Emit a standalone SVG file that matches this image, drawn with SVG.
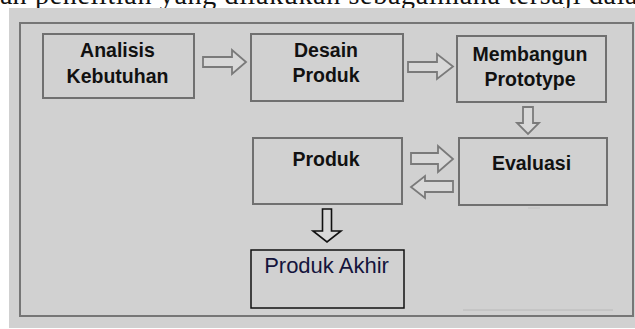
<svg xmlns="http://www.w3.org/2000/svg" width="635" height="329" viewBox="0 0 635 329">
<style>
.node{fill:#d1d1d1;stroke:#707070;stroke-width:2}
.lbl{font-family:"Liberation Sans",Arial,sans-serif;font-weight:bold;font-size:19.5px;fill:#111;text-anchor:middle}
.arr{fill:#d8d8d8;stroke:#7a7a7a;stroke-width:1.8;stroke-linejoin:miter}
.arrb{fill:#d8d8d8;stroke:#111;stroke-width:1.6}
</style>
<rect x="0" y="0" width="635" height="329" fill="#ffffff"/>
<text x="0" y="3.5" font-family="'Liberation Serif','Times New Roman',serif" font-size="28" fill="#111">ah</text>
<text x="35" y="3.5" font-family="'Liberation Serif','Times New Roman',serif" font-size="28" fill="#111" textLength="625" lengthAdjust="spacing">penelitian yang dilakukan sebagaimana tersaji dalam</text>
<rect x="9" y="8" width="626" height="320" fill="#d1d1d1"/>
<rect x="20" y="23" width="613" height="293" fill="none" stroke="#767676" stroke-width="2"/>
<line x1="463" y1="310" x2="613" y2="310" stroke="#b8b8b8" stroke-width="1"/>
<line x1="528" y1="208" x2="540" y2="208" stroke="#c0c0c0" stroke-width="1"/>

<g id="connectors">
<polygon class="arr" points="203,57 232,57 232,50 246,62 232,74 232,67 203,67"/>
<polygon class="arr" points="408,62 437,62 437,54 453,66.5 437,79 437,72 408,72"/>
<polygon class="arr" points="523,107 533,107 533,123 539,123 528,134 517,123 523,123"/>
<polygon class="arr" points="411,153 438,153 438,146 453,159 438,172 438,164 411,164"/>
<polygon class="arr" points="453,181 425,181 425,176 411,187 425,198 425,192 453,192"/>
<polygon class="arrb" points="322.5,209 331.5,209 331.5,231 341,231 327,242 313,231 322.5,231"/>
</g>

<g id="analisis">
<rect class="node" x="43" y="34" width="151" height="64"/>
<text class="lbl" x="117.5" y="57">Analisis</text>
<text class="lbl" x="117.5" y="83">Kebutuhan</text>
</g>
<g id="desain">
<rect class="node" x="251" y="34" width="152" height="67"/>
<text class="lbl" x="326" y="57">Desain</text>
<text class="lbl" x="326" y="82">Produk</text>
</g>
<g id="membangun">
<rect class="node" x="457" y="36" width="149" height="66"/>
<text class="lbl" x="530" y="61">Membangun</text>
<text class="lbl" x="530" y="86">Prototype</text>
</g>
<g id="evaluasi">
<rect class="node" x="459" y="138" width="148" height="67"/>
<text class="lbl" x="531.5" y="170">Evaluasi</text>
</g>
<g id="produk">
<rect class="node" x="253" y="138" width="149" height="66"/>
<text class="lbl" x="326" y="166">Produk</text>
</g>
<g id="produk-akhir">
<rect x="251" y="250" width="153" height="58" fill="#d1d1d1" stroke="#111" stroke-width="1.5"/>
<text x="326.5" y="273" font-family="'Liberation Sans',Arial,sans-serif" font-size="22" fill="#14143c" text-anchor="middle">Produk Akhir</text>
</g>
</svg>
